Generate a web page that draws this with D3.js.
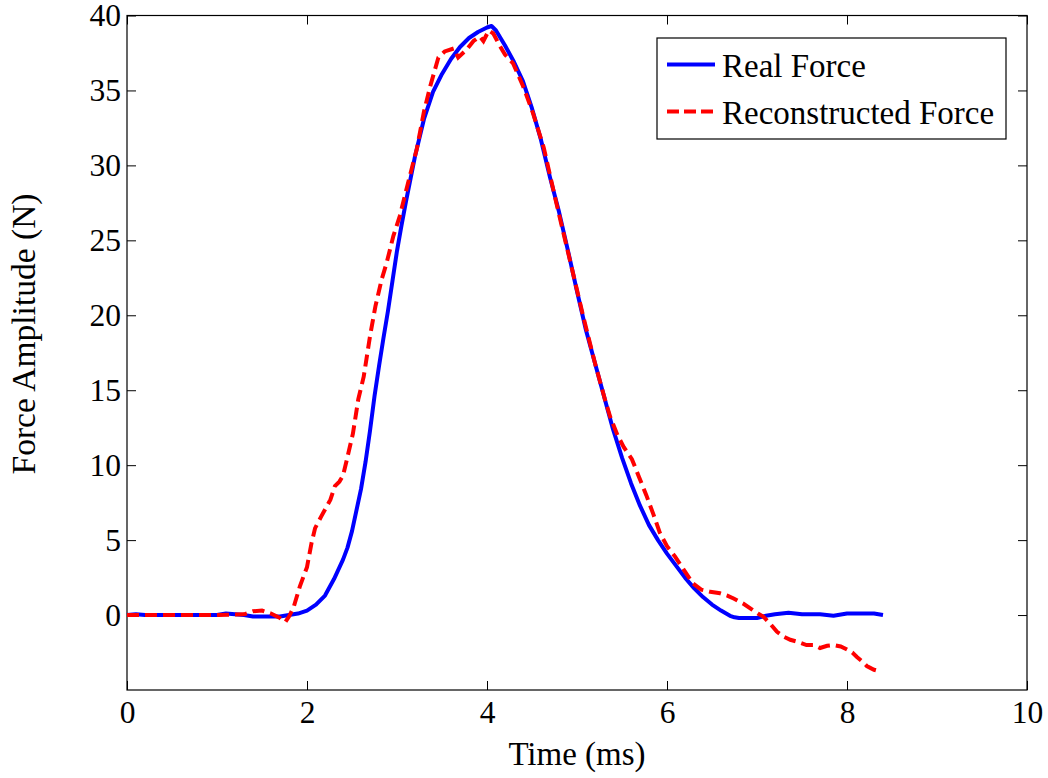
<!DOCTYPE html>
<html>
<head>
<meta charset="utf-8">
<script src="https://cdn.jsdelivr.net/npm/d3@7"></script>
<style>
  body { margin: 0; background: #fff; }
  svg { display: block; }
  text { font-family: "Liberation Serif", "Times New Roman", serif; fill: #000; }
</style>
</head>
<body>
<svg id="chart" width="1048" height="778"></svg>
<script>
// Real force (blue, solid)
const realTime = [0, 0.1, 0.2, 0.5, 0.8, 1.0, 1.1, 1.2, 1.3, 1.4, 1.7, 1.8, 1.9, 2.0, 2.1, 2.2, 2.3, 2.4, 2.45, 2.5,
  2.55, 2.6, 2.65, 2.7, 2.75, 2.8, 2.85, 2.9, 2.95, 3.0, 3.05, 3.1, 3.2, 3.3, 3.4, 3.5, 3.6, 3.7, 3.8, 3.9,
  4.0, 4.05, 4.1, 4.2, 4.3, 4.4, 4.5, 4.6, 4.7, 4.8, 4.9, 5.0, 5.1, 5.2, 5.3, 5.4, 5.5, 5.6, 5.7, 5.8,
  5.9, 6.0, 6.1, 6.2, 6.3, 6.4, 6.5, 6.6, 6.7, 6.75, 6.8, 7.0, 7.1, 7.2, 7.35, 7.5, 7.7, 7.85, 8.0, 8.1,
  8.3, 8.4];
const realForce = [0, 0.05, 0, 0, 0, 0, 0.1, 0.05, 0, -0.1, -0.1, 0, 0.1, 0.3, 0.7, 1.3, 2.4, 3.7, 4.5, 5.6,
  7.0, 8.4, 10.2, 12.3, 14.6, 16.6, 18.5, 20.3, 22.3, 24.3, 26.0, 27.6, 30.6, 33.1, 34.9, 36.1, 37.1, 37.9, 38.5, 38.9,
  39.2, 39.3, 39.0, 38.0, 36.9, 35.6, 33.8, 31.7, 29.2, 26.9, 24.3, 21.6, 19.0, 16.8, 14.6, 12.4, 10.5, 8.8, 7.3, 6.0,
  5.0, 4.1, 3.3, 2.5, 1.8, 1.2, 0.7, 0.3, -0.05, -0.15, -0.2, -0.2, -0.05, 0.05, 0.15, 0.05, 0.05, -0.05, 0.1, 0.1,
  0.1, 0.0];

// Reconstructed force (red, dashed)
const reconTime = [0, 1.0, 1.3, 1.4, 1.5, 1.6, 1.7, 1.76, 1.8, 1.85, 1.92, 2.0, 2.05, 2.09, 2.16, 2.26, 2.31, 2.36, 2.4, 2.44,
  2.51, 2.57, 2.63, 2.7, 2.76, 2.83, 2.885, 2.96, 3.03, 3.13, 3.22, 3.3, 3.37, 3.46, 3.53, 3.63, 3.68, 3.77, 3.85, 3.92,
  3.96, 4.02, 4.07, 4.14, 4.2, 4.29, 4.4, 4.51, 4.63, 4.77, 4.94, 5.07, 5.2, 5.31, 5.37, 5.45, 5.52, 5.61, 5.69, 5.77,
  5.85, 5.92, 6.0, 6.09, 6.2, 6.29, 6.38, 6.48, 6.59, 6.67, 6.74, 6.85, 6.95, 7.01, 7.07, 7.15, 7.22, 7.3, 7.37, 7.46,
  7.55, 7.63, 7.7, 7.78, 7.85, 7.93, 8.0, 8.06, 8.11, 8.17, 8.22, 8.3, 8.36];
const reconForce = [0, 0, 0.05, 0.25, 0.3, 0.1, -0.2, -0.45, -0.1, 0.5, 1.9, 3.2, 4.8, 5.8, 6.6, 7.7, 8.6, 8.9, 9.3, 10.3,
  12.1, 14.4, 15.9, 18.6, 20.6, 22.4, 23.5, 25.3, 26.6, 29.0, 31.1, 33.6, 35.3, 37.2, 37.6, 37.8, 37.2, 37.7, 38.3, 38.6,
  38.3, 39.0, 38.8, 38.0, 37.4, 36.8, 35.3, 33.5, 31.2, 27.5, 23.2, 19.9, 16.8, 14.4, 13.2, 12.0, 11.2, 10.4, 9.2, 8.0,
  6.7, 5.5, 4.6, 3.9, 2.9, 2.1, 1.7, 1.55, 1.45, 1.3, 1.1, 0.75, 0.35, 0.1, -0.1, -0.6, -1.1, -1.45, -1.65, -1.8,
  -2.0, -2.0, -2.2, -2.05, -2.0, -2.1, -2.3, -2.5, -2.8, -3.1, -3.4, -3.65, -3.75];

const xTicks = [0, 2, 4, 6, 8, 10];
const yTicks = [0, 5, 10, 15, 20, 25, 30, 35, 40];
const seriesNames = ["Real Force", "Reconstructed Force"];

const svg = d3.select("#chart");
const plotLeft = 127, plotRight = 1027, plotTop = 15.5, plotBottom = 690;
const tickLen = 9;

const x = d3.scaleLinear().domain([0, 10]).range([plotLeft, plotRight]);
const y = d3.scaleLinear().domain([-5, 40]).range([plotBottom, plotTop]);

function styleAxis(g) {
  g.select(".domain").remove();
  g.selectAll(".tick line").attr("stroke", "#000").attr("stroke-width", 1);
  g.selectAll(".tick text").style("font-size", "31.5px").attr("fill", "#000");
}

// axes (ticks pointing inward on all four sides)
svg.append("g")
  .attr("transform", `translate(0,${plotBottom})`)
  .call(d3.axisBottom(x).tickValues(xTicks).tickFormat(d3.format("d"))
    .tickSizeInner(-tickLen).tickSizeOuter(0).tickPadding(11))
  .call(styleAxis);

svg.append("g")
  .attr("transform", `translate(0,${plotTop})`)
  .call(d3.axisTop(x).tickValues(xTicks).tickFormat("")
    .tickSizeInner(-tickLen).tickSizeOuter(0))
  .call(styleAxis);

svg.append("g")
  .attr("transform", `translate(${plotLeft},0)`)
  .call(d3.axisLeft(y).tickValues(yTicks).tickFormat(d3.format("d"))
    .tickSizeInner(-tickLen).tickSizeOuter(0).tickPadding(6))
  .call(styleAxis);

svg.append("g")
  .attr("transform", `translate(${plotRight},0)`)
  .call(d3.axisRight(y).tickValues(yTicks).tickFormat("")
    .tickSizeInner(-tickLen).tickSizeOuter(0))
  .call(styleAxis);

// box
svg.append("rect")
  .attr("x", plotLeft).attr("y", plotTop)
  .attr("width", plotRight - plotLeft).attr("height", plotBottom - plotTop)
  .attr("fill", "none").attr("stroke", "#000").attr("stroke-width", 1.2);

// lines
const line = d3.line().x(d => x(d[0])).y(d => y(d[1]));
const realData = realTime.map((t, i) => [t, realForce[i]]);
const reconData = reconTime.map((t, i) => [t, reconForce[i]]);

svg.append("path")
  .datum(realData)
  .attr("d", line)
  .attr("fill", "none")
  .attr("stroke", "#0000ff")
  .attr("stroke-width", 4)
  .attr("stroke-linejoin", "round");

svg.append("path")
  .datum(reconData)
  .attr("d", line)
  .attr("fill", "none")
  .attr("stroke", "#ff0000")
  .attr("stroke-width", 4)
  .attr("stroke-dasharray", "12,6");

// axis labels
svg.append("text")
  .attr("x", (plotLeft + plotRight) / 2)
  .attr("y", 765)
  .attr("text-anchor", "middle")
  .style("font-size", "33px")
  .text("Time (ms)");

svg.append("text")
  .attr("transform", `translate(35,334) rotate(-90)`)
  .attr("text-anchor", "middle")
  .style("font-size", "33.5px")
  .text("Force Amplitude (N)");

// legend
const legend = svg.append("g");
legend.append("rect")
  .attr("x", 657).attr("y", 38)
  .attr("width", 349).attr("height", 101)
  .attr("fill", "#fff").attr("stroke", "#000").attr("stroke-width", 1.2);

const legendRows = [
  { name: seriesNames[0], color: "#0000ff", dash: null, yLine: 64.5, yText: 76.5 },
  { name: seriesNames[1], color: "#ff0000", dash: "12,5", yLine: 111.5, yText: 123.5 }
];
legendRows.forEach(r => {
  legend.append("line")
    .attr("x1", 667).attr("x2", 715)
    .attr("y1", r.yLine).attr("y2", r.yLine)
    .attr("stroke", r.color).attr("stroke-width", 4)
    .attr("stroke-dasharray", r.dash);
  legend.append("text")
    .attr("x", 722).attr("y", r.yText)
    .style("font-size", "33px")
    .text(r.name);
});
</script>
</body>
</html>
